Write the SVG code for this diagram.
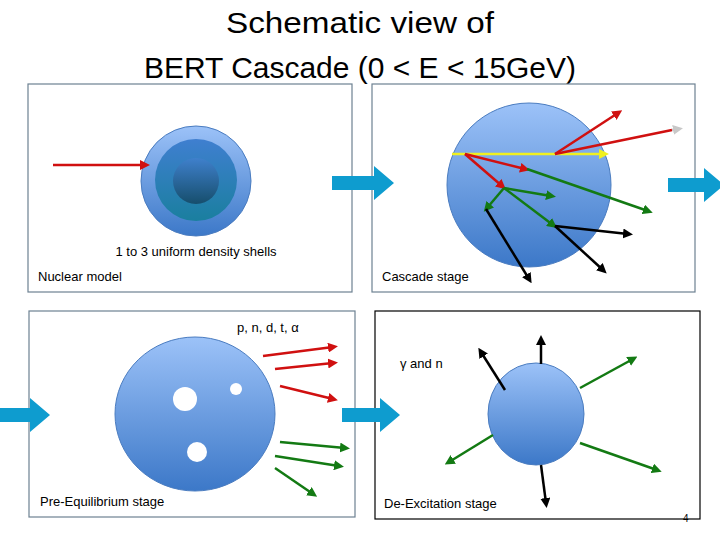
<svg xmlns="http://www.w3.org/2000/svg" width="720" height="540" viewBox="0 0 720 540">
<style>
text{font-family:"Liberation Sans","DejaVu Sans",sans-serif;fill:#000}
.lbl{font-size:13px}
.box{fill:#fff;stroke:#6d8192;stroke-width:1.2}
.big{fill:#0e9ccf}
.r{stroke:#d01010;stroke-width:2.5;fill:none;marker-end:url(#mr)}
.g{stroke:#137a13;stroke-width:2.5;fill:none;marker-end:url(#mg)}
.k{stroke:#000;stroke-width:2.5;fill:none;marker-end:url(#mk)}
</style>
<defs>
<linearGradient id="bl" x1="0" y1="0" x2="0" y2="1"><stop offset="0" stop-color="#9cc2f8"/><stop offset="1" stop-color="#3c78c8"/></linearGradient>
<linearGradient id="mid" x1="0" y1="0" x2="0" y2="1"><stop offset="0" stop-color="#3f7fd0"/><stop offset="1" stop-color="#1a7f9f"/></linearGradient>
<linearGradient id="in" x1="0" y1="0" x2="0" y2="1"><stop offset="0" stop-color="#3f80cc"/><stop offset="1" stop-color="#164e6c"/></linearGradient>
<marker id="mr" markerWidth="4" markerHeight="4" refX="2" refY="2" orient="auto"><path d="M0,0L4,2L0,4z" fill="#d01010"/></marker>
<marker id="mg" markerWidth="4" markerHeight="4" refX="2" refY="2" orient="auto"><path d="M0,0L4,2L0,4z" fill="#137a13"/></marker>
<marker id="mk" markerWidth="4" markerHeight="4" refX="2" refY="2" orient="auto"><path d="M0,0L4,2L0,4z" fill="#000"/></marker>
<marker id="my" markerWidth="4" markerHeight="4" refX="2" refY="2" orient="auto"><path d="M0,0L4,2L0,4z" fill="#f0f020"/></marker>
<marker id="mgr" markerWidth="4" markerHeight="4" refX="2" refY="2" orient="auto"><path d="M0,0L4,2L0,4z" fill="#c8c8c8"/></marker>
</defs>
<text x="360" y="33" font-size="30" text-anchor="middle" textLength="268" lengthAdjust="spacingAndGlyphs">Schematic view of</text>
<text x="360" y="78" font-size="30" text-anchor="middle" textLength="432" lengthAdjust="spacingAndGlyphs">BERT Cascade (0 &lt; E &lt; 15GeV)</text>

<g id="nuclear">
<rect class="box" x="28" y="84" width="324" height="208"/>
<circle cx="196" cy="181" r="55" fill="url(#bl)" stroke="#4a7cc0"/>
<circle cx="196" cy="180" r="41" fill="url(#mid)"/>
<circle cx="196" cy="181" r="23" fill="url(#in)"/>
<line x1="53" y1="165" x2="145" y2="165" class="r" stroke="#c01818"/>
<text class="lbl" x="196" y="256" text-anchor="middle">1 to 3 uniform density shells</text>
<text class="lbl" x="38" y="281">Nuclear model</text>
</g>

<g id="cascade">
<rect class="box" x="372" y="84" width="323" height="208"/>
<circle cx="529" cy="185" r="82" fill="url(#bl)" stroke="#4a7cc0"/>
<line x1="452" y1="154" x2="604" y2="154" stroke="#f0f020" stroke-width="2.5" marker-end="url(#my)"/>
<line x1="555" y1="154" x2="618" y2="113" class="r"/>
<line x1="555" y1="154" x2="672" y2="130" stroke="#d01010" stroke-width="2.5"/>
<line x1="672" y1="130" x2="678" y2="129" stroke="#c8c8c8" stroke-width="2.5" marker-end="url(#mgr)"/>
<line x1="465" y1="154" x2="525" y2="169" class="r"/>
<line x1="465" y1="154" x2="502" y2="186" class="r"/>
<line x1="527" y1="169" x2="648" y2="211" class="g"/>
<line x1="504" y1="188" x2="551" y2="196" class="g"/>
<line x1="504" y1="188" x2="487" y2="208" class="g"/>
<line x1="504" y1="188" x2="553" y2="225" class="g"/>
<line x1="486" y1="209" x2="529" y2="279" class="k"/>
<line x1="555" y1="226" x2="628" y2="234" class="k"/>
<line x1="555" y1="226" x2="603" y2="270" class="k"/>
<text class="lbl" x="382" y="281">Cascade stage</text>
</g>

<g id="preeq">
<rect class="box" x="29" y="311" width="326" height="206"/>
<ellipse cx="195" cy="414" rx="80" ry="77" fill="url(#bl)" stroke="#4a7cc0"/>
<circle cx="185" cy="399" r="12" fill="#fff"/>
<circle cx="236" cy="389" r="6" fill="#fff"/>
<circle cx="197" cy="452" r="10" fill="#fff"/>
<line x1="263" y1="356" x2="333" y2="347" class="r"/>
<line x1="275" y1="369" x2="333" y2="363" class="r"/>
<line x1="280" y1="386" x2="333" y2="399" class="r"/>
<line x1="280" y1="442" x2="345" y2="448" class="g"/>
<line x1="275" y1="456" x2="339" y2="466" class="g"/>
<line x1="275" y1="468" x2="313" y2="494" class="g"/>
<text class="lbl" x="237" y="332">p, n, d, t, α</text>
<text class="lbl" x="40" y="506">Pre-Equilibrium stage</text>
</g>

<g id="deexc">
<rect x="375" y="311" width="325" height="208" fill="#fff" stroke="#000" stroke-width="1.2"/>
<ellipse cx="536" cy="414" rx="48" ry="51" fill="url(#bl)" stroke="#4a7cc0"/>
<line x1="541" y1="364" x2="541" y2="340" class="k"/>
<line x1="505" y1="390" x2="481" y2="352" class="k"/>
<line x1="541" y1="465" x2="546" y2="503" class="k"/>
<line x1="580" y1="388" x2="633" y2="359" class="g"/>
<line x1="493" y1="435" x2="449" y2="462" class="g"/>
<line x1="580" y1="443" x2="657" y2="470" class="g"/>
<text class="lbl" x="400" y="368">γ and n</text>
<text class="lbl" x="384" y="508">De-Excitation stage</text>
</g>

<g id="connectors">
<path class="big" d="M332,176h42v-10l20,17l-20,17v-10h-42z"/>
<path class="big" d="M668,178h36v-10l20,17l-20,17v-10h-36z"/>
<path class="big" d="M0,408h30v-10l20,17l-20,17v-10h-30z"/>
<path class="big" d="M342,408h38v-10l20,17l-20,17v-10h-38z"/>
</g>
<text x="683" y="522" font-size="10">4</text>
</svg>
